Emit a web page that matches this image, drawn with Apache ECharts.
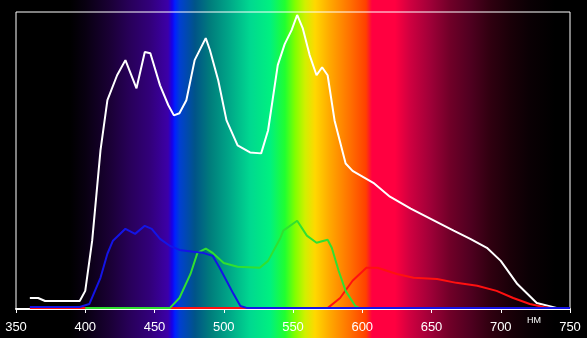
<!DOCTYPE html>
<html>
<head>
<meta charset="utf-8">
<script src="https://cdn.jsdelivr.net/npm/echarts@6/dist/echarts.min.js"></script>
<style>
  html, body { margin: 0; padding: 0; background: #000; }
  #chart { width: 587px; height: 338px; }
</style>
</head>
<body>
<div id="chart"></div>
<script>
// wavelength ticks
var xTicks = [350, 400, 450, 500, 550, 600, 650, 700, 750]

// white (total) curve
var whiteNm = [360, 366, 371, 396, 400, 405, 411, 416, 423, 429, 437, 443, 447, 454, 460, 464, 468, 473, 479, 487, 490, 496, 502, 510, 519, 527, 532, 539, 544, 549, 553, 557, 562, 567, 571, 575, 580, 588, 593, 608, 620, 635, 666, 678, 690, 700, 712, 726, 741]
var whiteVal = [3.7, 3.7, 2.7, 2.7, 6.1, 23, 53.4, 70.3, 78.7, 83.8, 74.3, 86.5, 86.1, 75.3, 68.6, 65.2, 65.9, 70.3, 83.8, 91.2, 87.2, 77, 63.5, 55.1, 52.7, 52.4, 60.1, 82.1, 89.2, 93.9, 99, 94.6, 85.5, 78.7, 81.4, 78.7, 63.5, 49, 46.5, 42.5, 37.8, 33.8, 26.4, 23.6, 20.6, 16.2, 8.4, 2, 0.3]

// blue curve
var blueNm = [360, 396, 403, 411, 416, 420, 429, 436, 443, 448, 454, 461, 468, 478, 485, 492, 497, 502, 507, 512, 517, 750]
var blueVal = [0.7, 0.7, 1.7, 10.5, 18.6, 23, 27, 25.3, 28, 27, 23.6, 21.3, 19.9, 19.3, 18.9, 17.9, 13.9, 9.5, 5.1, 1, 0.3, 0.3]

// green curve
var greenNm = [400, 461, 468, 476, 481, 487, 492, 500, 510, 526, 532, 541, 543, 553, 560, 567, 575, 578, 583, 588, 595, 598, 661]
var greenVal = [0.3, 0.3, 3.7, 11.8, 18.9, 20.3, 18.9, 15.5, 14.2, 13.9, 16.2, 24, 26.4, 29.7, 24.7, 22.3, 23.3, 20.6, 12.8, 6.1, 1, 0.3, 0.3]

// red curve
var redNm = [360, 372, 490, 575, 584, 593, 603, 611, 625, 637, 654, 668, 683, 697, 709, 721, 731, 736]
var redVal = [0.3, 0.3, 0.3, 0.3, 3.7, 9.5, 13.9, 13.9, 11.8, 10.5, 10.1, 8.8, 7.8, 6.1, 3.7, 1.7, 0.7, 0.3]

function pairs (xs, ys) {
  return xs.map(function (x, i) { return [x, ys[i]] })
}

// spectrum backdrop, stops by pixel column
var W = 587
var spectrum = [
  [0, '#000000'], [70, '#000000'], [85, '#080010'], [110, '#1a0035'], [130, '#28005a'],
  [150, '#32007a'], [168, '#3c00a8'], [172, '#1800e8'], [175, '#0020ff'], [180, '#0040d0'],
  [195, '#005488'], [210, '#007c7c'], [230, '#00a888'], [250, '#00d890'], [270, '#00f080'],
  [285, '#20ff30'], [295, '#80ff00'], [305, '#d0f000'], [315, '#ffd800'], [330, '#ffa800'],
  [350, '#ff7000'], [366, '#ff4000'], [372, '#ff0040'], [395, '#ff0040'], [410, '#d00040'],
  [430, '#a00038'], [450, '#700028'], [470, '#500020'], [490, '#300010'], [510, '#1a0008'],
  [530, '#0a0004'], [555, '#000000'], [587, '#000000']
]

function line (name, data, color, width, z) {
  return {
    name: name,
    type: 'line',
    data: data,
    symbol: 'none',
    smooth: false,
    z: z,
    lineStyle: { color: color, width: width },
    animation: false
  }
}

var chart = echarts.init(document.getElementById('chart'))
chart.setOption({
  backgroundColor: '#000',
  animation: false,
  graphic: [{
    type: 'rect',
    left: 0,
    top: 0,
    z: -10,
    silent: true,
    shape: { width: W, height: 338 },
    style: {
      fill: new echarts.graphic.LinearGradient(0, 0, 1, 0, spectrum.map(function (s) {
        return { offset: s[0] / W, color: s[1] }
      }))
    }
  }, {
    type: 'text',
    left: 527,
    top: 316,
    style: { text: 'НМ', fill: '#fff', font: '9px Arial, "Liberation Sans", sans-serif' }
  }],
  grid: {
    left: 16,
    right: 17,
    top: 12,
    bottom: 29,
    show: true,
    borderColor: '#fff',
    borderWidth: 1,
    backgroundColor: 'transparent'
  },
  xAxis: {
    type: 'value',
    min: 350,
    max: 750,
    interval: 50,
    axisLine: { lineStyle: { color: '#fff', width: 2 } },
    axisTick: { show: true, length: 4, lineStyle: { color: '#fff' } },
    splitLine: { show: false },
    axisLabel: {
      color: '#fff',
      fontSize: 13,
      fontFamily: 'Arial, "Liberation Sans", sans-serif',
      margin: 12,
      showMinLabel: true,
      showMaxLabel: true,
      formatter: function (v) { return xTicks.indexOf(v) >= 0 ? String(v) : '' }
    }
  },
  yAxis: {
    type: 'value',
    min: 0,
    max: 100,
    show: false,
    splitLine: { show: false }
  },
  series: [
    line('white', pairs(whiteNm, whiteVal), '#ffffff', 2, 2),
    line('red', pairs(redNm, redVal), '#ff1010', 2, 3),
    line('green', pairs(greenNm, greenVal), '#30e030', 2, 4),
    line('blue', pairs(blueNm, blueVal), '#1414e6', 2, 5)
  ]
})
</script>
</body>
</html>
